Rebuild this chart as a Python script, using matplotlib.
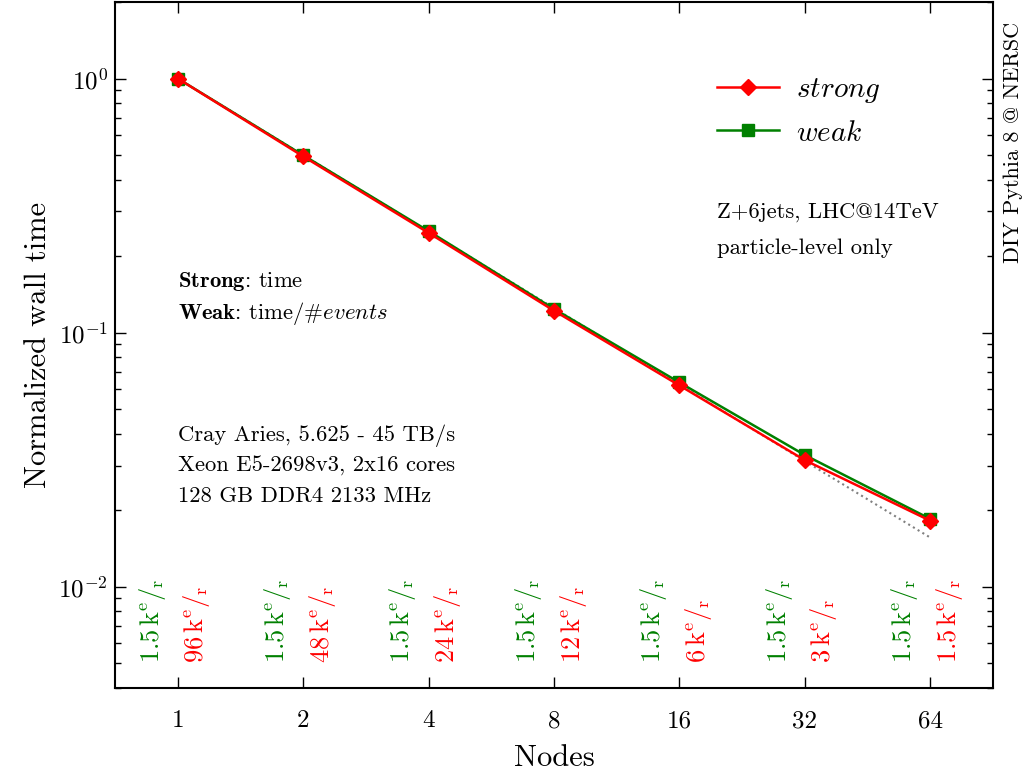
import matplotlib
matplotlib.use("Agg")
import matplotlib.pyplot as plt
import numpy as np

# 字体：尽量接近 LaTeX 的 Computer Modern
plt.rcParams["font.family"] = ["cmr10", "DejaVu Serif"]
plt.rcParams["mathtext.fontset"] = "cm"
plt.rcParams["axes.formatter.use_mathtext"] = True
plt.rcParams["axes.unicode_minus"] = False

# ---------- 数据 ----------
nodes = [1, 2, 4, 8, 16, 32, 64]
strong = [1.0, 0.494, 0.247, 0.122, 0.0620, 0.0315, 0.0182]
weak = [1.0, 0.499, 0.251, 0.124, 0.0637, 0.0330, 0.0185]
ideal = [1.0, 0.5, 0.25, 0.125, 0.0625, 0.03125, 0.015625]
weak_rate = ["1.5", "1.5", "1.5", "1.5", "1.5", "1.5", "1.5"]
strong_rate = ["96", "48", "24", "12", "6", "3", "1.5"]

RED = "#ff0000"
GREEN = "#008000"

fig = plt.figure(figsize=(10.31, 7.71), dpi=100)
ax = fig.add_axes([115 / 1031, 1 - 688 / 771, 878 / 1031, 686 / 771])

ax.plot(nodes, ideal, ls=":", color="gray", lw=1.5)
ax.plot(nodes, weak, color=GREEN, lw=1.8, marker="s", ms=8, mec=GREEN, label="$weak$")
ax.plot(nodes, strong, color=RED, lw=1.8, marker="D", ms=8, mec=RED, label="$strong$")

ax.set_xscale("log", base=2)
ax.set_yscale("log")
ax.set_xlim(1 / np.sqrt(2), 64 * np.sqrt(2))
ax.set_ylim(0.004, 2.0)
ax.set_xticks(nodes)
ax.set_xticklabels([str(n) for n in nodes])
ax.xaxis.set_minor_locator(matplotlib.ticker.NullLocator())

ax.tick_params(which="both", direction="in", top=True, right=True, labelsize=18)
ax.tick_params(axis="x", pad=16)
ax.tick_params(axis="y", pad=5)
ax.tick_params(which="major", length=8, width=1)
ax.tick_params(which="minor", length=4, width=1)
for sp in ax.spines.values():
    sp.set_linewidth(1.5)

ax.set_xlabel("Nodes", fontsize=22, labelpad=9)
ax.set_ylabel("Normalized wall time", fontsize=22)
ax.yaxis.set_label_coords(-0.072, 0.5)

# 图例（strong 在前）
handles, labels = ax.get_legend_handles_labels()
ax.legend(handles[::-1], labels[::-1], loc="upper left", bbox_to_anchor=(0.686, 0.892),
          frameon=False, fontsize=21, handlelength=2.1, handletextpad=0.6,
          labelspacing=0.52, borderpad=0, borderaxespad=0)

# 注释文字
FS = 16.3
ax.text(0.686, 0.694, "Z+6jets, LHC@14TeV", transform=ax.transAxes, fontsize=FS, va="center")
ax.text(0.686, 0.641, "particle-level only", transform=ax.transAxes, fontsize=FS, va="center")
ax.text(0.072, 0.593, r"$\mathbf{Strong}$: time", transform=ax.transAxes, fontsize=FS, va="center")
ax.text(0.072, 0.546, r"$\mathbf{Weak}$: time/#$events$", transform=ax.transAxes, fontsize=FS, va="center")
ax.text(0.072, 0.367, "Cray Aries, 5.625 - 45 TB/s", transform=ax.transAxes, fontsize=FS, va="center")
ax.text(0.072, 0.324, "Xeon E5-2698v3, 2x16 cores", transform=ax.transAxes, fontsize=FS, va="center")
ax.text(0.072, 0.280, "128 GB DDR4 2133 MHz", transform=ax.transAxes, fontsize=FS, va="center")

# 每个节点的事件率
for n, w, s in zip(nodes, weak_rate, strong_rate):
    ax.annotate(r"$%s\,\mathrm{k}^{\mathrm{e}}/_{\mathrm{r}}$" % w, xy=(n, 0.036),
                xycoords=("data", "axes fraction"), xytext=(-18.5, 0), textcoords="offset points",
                rotation=90, ha="center", va="bottom", color=GREEN, fontsize=19)
    ax.annotate(r"$%s\,\mathrm{k}^{\mathrm{e}}/_{\mathrm{r}}$" % s, xy=(n, 0.036),
                xycoords=("data", "axes fraction"), xytext=(13.7, 0), textcoords="offset points",
                rotation=90, ha="center", va="bottom", color=RED, fontsize=19)

fig.text(1013 / 1031, 1 - 142 / 771, "DIY Pythia 8 @ NERSC", rotation=90,
         ha="center", va="center", fontsize=16)

fig.savefig("out.png", dpi=100)
